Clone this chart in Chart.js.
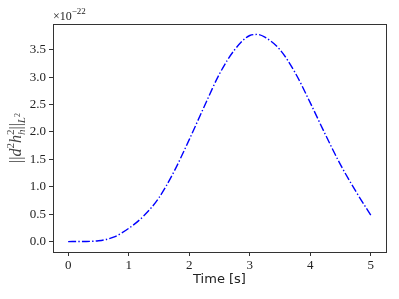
<!DOCTYPE html>
<html>
<head>
<meta charset="utf-8">
<script src="https://cdn.jsdelivr.net/npm/chart.js@4"></script>
<style>
  html, body { margin: 0; padding: 0; background: #fff; }
  #chart { display: block; }
</style>
</head>
<body>
<canvas id="chart" width="399" height="299"></canvas>
<script>
// time [s] and norm values (in units of 1e-22)
const times = [0, 0.25, 0.5, 0.75, 1.0, 1.25, 1.5, 1.75, 2.0, 2.25, 2.5, 2.75, 3.0, 3.125, 3.25, 3.5, 3.75, 4.0, 4.25, 4.5, 4.75, 5.0];
const normValues = [0, 0.002, 0.015, 0.08, 0.24, 0.47, 0.80, 1.28, 1.86, 2.47, 3.06, 3.50, 3.76, 3.78, 3.73, 3.50, 3.08, 2.53, 1.95, 1.40, 0.92, 0.48];
const xTicks = [0, 1, 2, 3, 4, 5];
const yTicks = [0, 0.5, 1.0, 1.5, 2.0, 2.5, 3.0, 3.5];

const serif = '"Liberation Serif", "DejaVu Serif", serif';
const axisColor = '#333';

// box around the axes + y label with sub/superscripts + offset text
const decorPlugin = {
  id: 'decor',
  afterDraw(chart) {
    const ctx = chart.ctx;
    const a = chart.chartArea;
    ctx.save();
    ctx.strokeStyle = axisColor;
    ctx.lineWidth = 1;
    ctx.strokeRect(Math.round(a.left) + 0.5, Math.round(a.top) + 0.5,
      Math.round(a.right - a.left), Math.round(a.bottom - a.top));

    // offset text  x10^-22
    ctx.fillStyle = '#222';
    ctx.textBaseline = 'alphabetic';
    ctx.textAlign = 'left';
    ctx.font = '12px ' + serif;
    let x = a.left;
    ctx.fillText('\u00d710', x, 20);
    x += ctx.measureText('\u00d710').width;
    ctx.font = '9px ' + serif;
    ctx.fillText('\u221222', x, 14);

    // rotated y title ||d^2 h_h^2||_{L^2}
    ctx.fillStyle = '#444';
    ctx.translate(16, (a.top + a.bottom) / 2);
    ctx.rotate(-Math.PI / 2);
    const big = 16, small = 11;
    const parts = [
      { t: '||', s: big, dy: 0 },
      { t: 'd', s: big, dy: 0, it: true },
      { t: '2', s: small, dy: -7 },
      { t: 'h', s: big, dy: 0, it: true },
      { t: 'h', s: small, dy: 4, it: true },
      { t: '2', s: small, dy: -7, stack: true },
      { t: '||', s: big, dy: 0 },
      { t: 'L', s: small, dy: 4, it: true },
      { t: '2', s: 8, dy: -1 }
    ];
    const widths = parts.map(p => {
      ctx.font = (p.it ? 'italic ' : '') + p.s + 'px ' + serif;
      return ctx.measureText(p.t).width;
    });
    let total = 0;
    parts.forEach((p, i) => { if (!p.stack) total += widths[i]; });
    let px = -total / 2;
    parts.forEach((p, i) => {
      ctx.font = (p.it ? 'italic ' : '') + p.s + 'px ' + serif;
      if (p.stack) {
        ctx.fillText(p.t, px - widths[i - 1], 5 + p.dy);
        return;
      }
      ctx.fillText(p.t, px, 5 + p.dy);
      px += widths[i];
    });
    ctx.restore();
  }
};

new Chart(document.getElementById('chart'), {
  type: 'line',
  data: {
    datasets: [{
      data: times.map((t, i) => ({ x: t, y: normValues[i] })),
      borderColor: '#0000ff',
      borderWidth: 1.4,
      borderDash: [8, 2.2, 1.4, 2.2],
      pointRadius: 0,
      fill: false,
      cubicInterpolationMode: 'monotone'
    }]
  },
  options: {
    responsive: false,
    animation: false,
    layout: { padding: { top: 24, right: 13, left: 0, bottom: 0 } },
    plugins: { legend: { display: false }, tooltip: { enabled: false } },
    scales: {
      x: {
        type: 'linear',
        min: -0.25,
        max: 5.25,
        afterBuildTicks: (s) => { s.ticks = xTicks.map(v => ({ value: v })); },
        afterFit: (s) => { s.height = 47; },
        border: { display: false },
        grid: { drawOnChartArea: false, tickLength: 4, tickColor: axisColor },
        ticks: {
          padding: 2,
          color: '#222',
          font: { family: serif, size: 13 },
          maxRotation: 0,
          callback: (v) => String(v)
        },
        title: {
          display: true,
          text: 'Time [s]',
          color: '#222',
          font: { family: '"DejaVu Sans", sans-serif', size: 13 },
          padding: { top: 0, bottom: 12 }
        }
      },
      y: {
        type: 'linear',
        min: -0.19,
        max: 3.97,
        afterBuildTicks: (s) => { s.ticks = yTicks.map(v => ({ value: v })); },
        afterFit: (s) => { s.width = 53; },
        border: { display: false },
        grid: { drawOnChartArea: false, tickLength: 4, tickColor: axisColor },
        ticks: {
          padding: 3,
          color: '#222',
          font: { family: serif, size: 13 },
          callback: (v) => v.toFixed(1)
        }
      }
    }
  },
  plugins: [decorPlugin]
});
</script>
</body>
</html>
